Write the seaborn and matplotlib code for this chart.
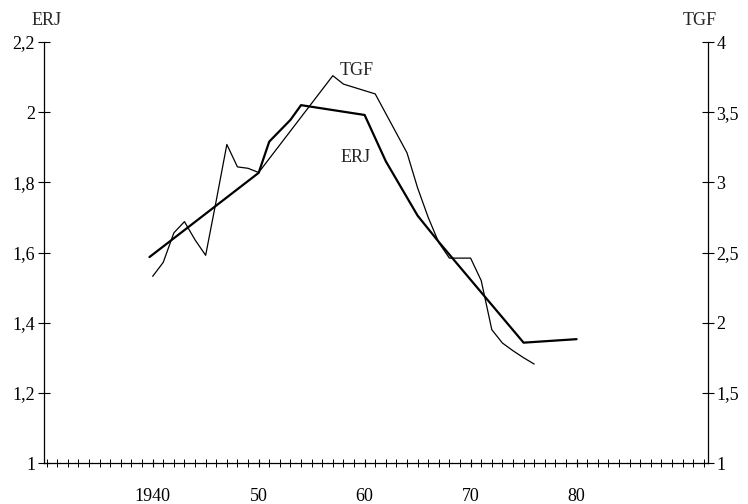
import matplotlib
matplotlib.use("Agg")
import matplotlib.pyplot as plt
import seaborn as sns

# ERJ (left axis, thick line)
erj_years = [1939.7, 1950, 1951, 1953, 1954, 1960, 1962, 1965, 1967, 1975, 1980]
erj_values = [1.587, 1.827, 1.916, 1.978, 2.020, 1.992, 1.860, 1.705, 1.630, 1.343, 1.353]

# TGF (right axis, thin line)
tgf_years = [1940, 1941, 1942, 1943, 1944, 1945, 1946, 1947, 1948, 1949, 1950,
             1957, 1958, 1961, 1964, 1965, 1966, 1967, 1968, 1969, 1970,
             1971, 1972, 1973, 1974, 1975, 1976]
tgf_values = [2.33, 2.43, 2.64, 2.72, 2.59, 2.48, 2.87, 3.27, 3.11, 3.10, 3.07,
              3.76, 3.70, 3.63, 3.21, 2.96, 2.75, 2.57, 2.46, 2.46, 2.46,
              2.30, 1.95, 1.855, 1.80, 1.75, 1.705]

left_ticks = [1, 1.2, 1.4, 1.6, 1.8, 2, 2.2]
left_labels = ["1", "1,2", "1,4", "1,6", "1,8", "2", "2,2"]
right_ticks = [1, 1.5, 2, 2.5, 3, 3.5, 4]
right_labels = ["1", "1,5", "2", "2,5", "3", "3,5", "4"]
x_ticks = [1940, 1950, 1960, 1970, 1980]
x_labels = ["1940", "50", "60", "70", "80"]

sns.set_theme(style="ticks")
plt.rcParams['font.family'] = ['Liberation Serif', 'DejaVu Serif']
plt.rcParams['axes.linewidth'] = 0.9

fig = plt.figure(figsize=(7.48, 5.04), dpi=100)
ax = fig.add_axes([43.5 / 748, 41 / 504, (708 - 43.5) / 748, 421 / 504])
ax2 = ax.twinx()

sns.lineplot(x=erj_years, y=erj_values, ax=ax, color="black", lw=1.6, estimator=None)
sns.lineplot(x=tgf_years, y=tgf_values, ax=ax2, color="black", lw=0.9, estimator=None)

ax.set_xlim(1929.7, 1992.4)
ax.set_ylim(1, 2.2)
ax2.set_ylim(1, 4)

for a in (ax, ax2):
    a.set_xlabel("")
    a.set_ylabel("")
    a.spines["top"].set_visible(False)
ax.spines["right"].set_visible(False)
ax2.spines["left"].set_visible(False)
ax2.spines["bottom"].set_visible(False)
for s in ["left", "bottom"]:
    ax.spines[s].set_color("black")
ax2.spines["right"].set_color("black")

ax.set_yticks(left_ticks)
ax.set_yticklabels(left_labels)
ax2.set_yticks(right_ticks)
ax2.set_yticklabels(right_labels)
ax.set_xticks(x_ticks)
ax.set_xticklabels(x_labels)
ax.set_xticks(list(range(1930, 1993)), minor=True)

fs = 13
ax.tick_params(axis="y", direction="inout", length=8, width=0.8, labelsize=fs, pad=2, colors="black")
ax2.tick_params(axis="y", direction="inout", length=8, width=0.8, labelsize=fs, pad=2, colors="black")
ax.tick_params(axis="x", which="major", direction="inout", length=6, width=0.8, labelsize=fs, pad=15, colors="black")
ax.tick_params(axis="x", which="minor", direction="inout", length=6, width=0.7, colors="black")

ax.text(0.005, 1.05, "ERJ", transform=ax.transAxes, ha="center", va="center", fontsize=fs)
ax.text(0.988, 1.05, "TGF", transform=ax.transAxes, ha="center", va="center", fontsize=fs)

ax.text(1959.25, 2.12, "TGF", ha="center", va="center", fontsize=fs)
ax.text(1959.1, 1.872, "ERJ", ha="center", va="center", fontsize=fs)

fig.savefig("out.png", dpi=100)
